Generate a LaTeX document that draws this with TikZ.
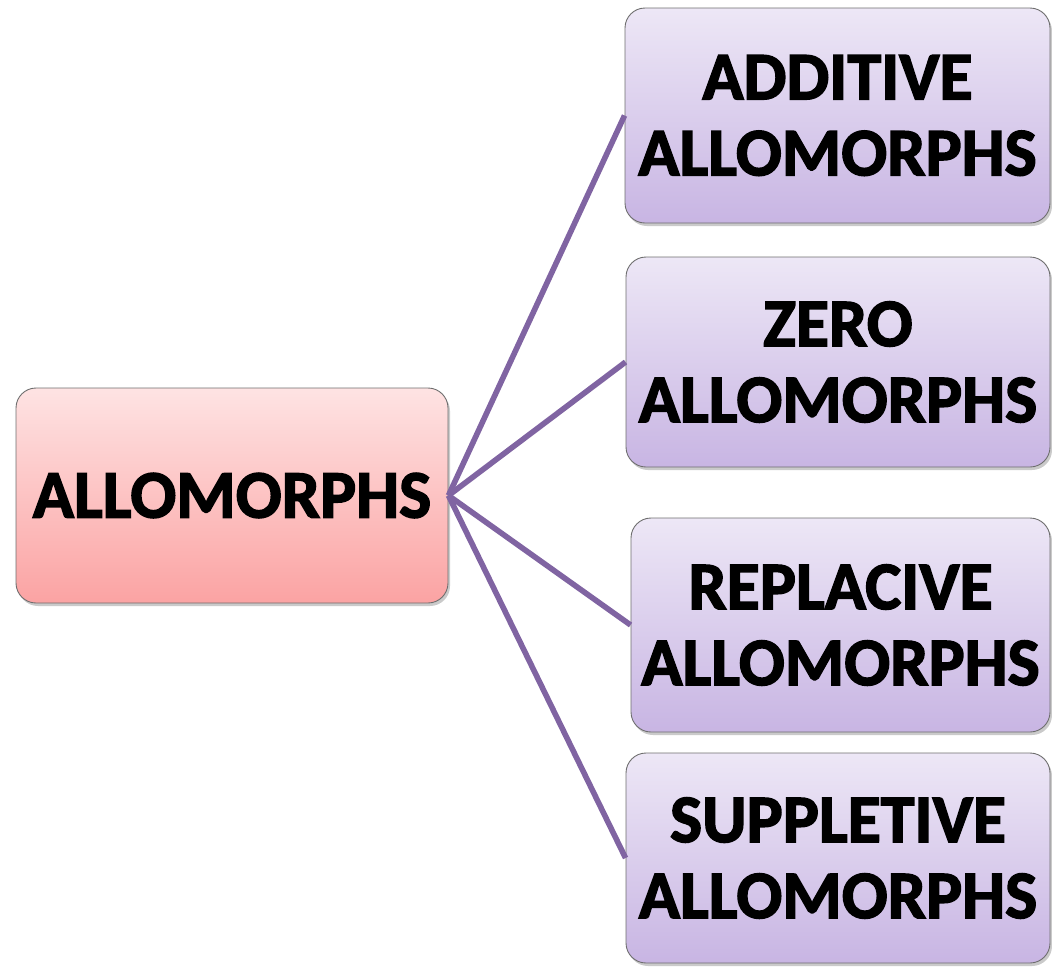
\documentclass[tikz,border=0pt]{standalone}
\usepackage{fontspec}
\setmainfont{Carlito}
\newfontfamily\heavyfont{Carlito}[UprightFont=*-Bold, FakeBold=2.2]
\usetikzlibrary{shadows}
\definecolor{rootTop}{HTML}{FEE3E3}
\definecolor{rootBot}{HTML}{FBA3A3}
\definecolor{leafTop}{HTML}{EDE7F6}
\definecolor{leafBot}{HTML}{C8B5E3}
\definecolor{edgeLine}{HTML}{8064A2}
\definecolor{boxLine}{HTML}{6E6E6E}
\tikzset{
  x=1pt, y=-1pt,
  card/.style={rectangle, rounded corners=20pt, draw=boxLine, line width=0.9pt,
    align=center, inner sep=0pt,
    font=\heavyfont\fontsize{68}{76}\selectfont,
    drop shadow={shadow xshift=2pt, shadow yshift=-3pt, opacity=0.35, fill=black!60}},
  rootcard/.style={card, top color=rootTop, bottom color=rootBot},
  leafcard/.style={card, top color=leafTop, bottom color=leafBot},
  branch/.style={draw=edgeLine, line width=5.6pt}
}
\begin{document}
\begin{tikzpicture}
\useasboundingbox (0,0) rectangle (1052,967);
% central term
\node[rootcard, minimum width=432pt, minimum height=215pt] (root) at (232,495.5) {ALLOMORPHS};
% the four kinds
\node[leafcard, minimum width=425pt, minimum height=215pt] (add) at (837.5,115.5) {ADDITIVE\\ALLOMORPHS};
\node[leafcard, minimum width=424pt, minimum height=210pt] (zero) at (838,362) {ZERO\\ALLOMORPHS};
\node[leafcard, minimum width=419pt, minimum height=214pt] (repl) at (840.5,625) {REPLACIVE\\ALLOMORPHS};
\node[leafcard, minimum width=424pt, minimum height=210pt] (supp) at (838,858) {SUPPLETIVE\\ALLOMORPHS};
% branches
\draw[branch] (root.east) -- (add.west);
\draw[branch] (root.east) -- (zero.west);
\draw[branch] (root.east) -- (repl.west);
\draw[branch] (root.east) -- (supp.west);
\end{tikzpicture}
\end{document}
